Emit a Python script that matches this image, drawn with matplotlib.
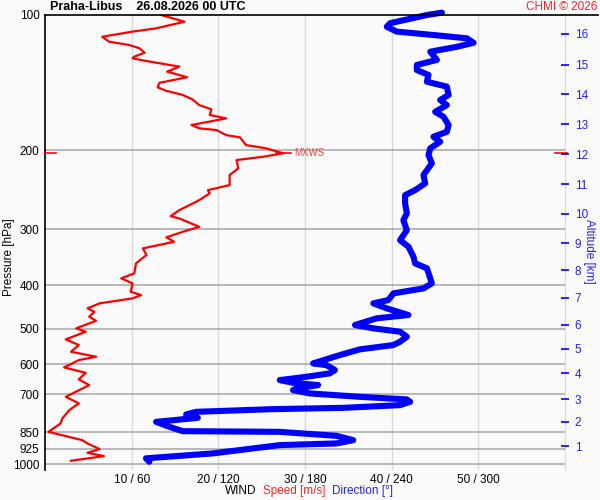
import matplotlib
matplotlib.use("Agg")
import matplotlib.pyplot as plt
from matplotlib.ticker import NullLocator

TITULO = "Praha-Libus    26.08.2026 00 UTC"

# rychlost vetru [m/s] podle tlaku [hPa]
PRES_RYCHLOST = [100, 103.5, 107.1, 108.9, 111.8, 114.7, 116.6, 118.6, 121.3, 123.8,
                 124.9, 126.6, 130.3, 133.7, 137.6, 141.6, 144.9, 147.5, 150.7, 154.1,
                 158.7, 162.2, 167.0, 169.9, 175.8, 178.8, 180.4, 185.1, 187.3, 194.8,
                 198.1, 203.2, 206.8, 210.4, 219.5, 227.2, 239.2, 245.5, 249.6, 258.4,
                 263.7, 272.0, 280.5, 283.8, 296.3, 303.9, 312.7, 319.9, 330.9, 342.4,
                 357.3, 376.1, 385.9, 396.0, 413.4, 420.4, 427.6, 438.7, 450.1, 457.9,
                 469.8, 479.6, 498.6, 507.4, 527.6, 543.2, 562.2, 576.8, 586.8, 609.2,
                 626.3, 647.8, 667.1, 708.4, 732.8, 758.4, 791.4, 812.0, 847.8, 884.6,
                 899.6, 926.3, 944.0, 960.1, 983.2]
RYCHLOST = [13.4, 16.1, 12.8, 10.1, 6.6, 7.4, 9.7, 10.9, 11.5, 10.3,
            10.1, 11.7, 15.5, 14.1, 16.4, 13.2, 13.0, 14.0, 15.9, 17.0,
            17.8, 19.2, 19.0, 20.9, 16.9, 17.8, 19.8, 20.9, 22.5, 23.2,
            25.5, 27.5, 25.2, 22.1, 22.3, 21.3, 21.3, 18.8, 19.0, 17.8,
            16.9, 15.5, 14.5, 15.5, 17.8, 15.9, 14.0, 14.9, 11.3, 11.7,
            10.5, 10.3, 8.8, 10.1, 9.9, 11.1, 10.1, 6.3, 4.9, 5.7,
            5.1, 5.9, 3.6, 4.7, 2.4, 3.9, 3.0, 5.9, 3.9, 2.2,
            4.7, 3.9, 5.1, 2.4, 3.9, 2.8, 2.0, 1.8, 0.4, 4.3,
            4.9, 6.3, 4.9, 6.8, 3.0]

# smer vetru [deg] podle tlaku [hPa]
PRES_SMER = [98.8, 100, 104.3, 106.2, 108.9, 110.8, 112.7, 115.3, 117.7, 120.7,
             125.9, 129.2, 132.6, 136.0, 140.8, 144.4, 150.7, 154.6, 158.7, 164.3,
             168.5, 175.8, 182.0, 186.7, 191.5, 198.1, 205.0, 214.0, 227.2, 237.1,
             245.5, 251.8, 262.8, 276.6, 286.3, 301.4, 317.3, 328.1, 345.4, 357.3,
             366.5, 385.9, 396.0, 406.3, 416.8, 431.3, 438.7, 450.1, 465.7, 473.7,
             490.2, 498.6, 507.4, 520.6, 534.1, 543.2, 555.4, 571.8, 596.9, 602.2,
             617.5, 628.1, 639.2, 650.2, 659.3, 667.1, 678.5, 684.5, 696.2, 708.4,
             717.9, 726.8, 739.3, 749.6, 754.6, 765.1, 775.4, 789.0, 805.4, 826.2,
             844.8, 847.8, 865.4, 884.6, 899.6, 907.5, 946.9, 971.1, 988.3]
SMER = [274.8, 264.4, 238.9, 236.6, 243.5, 268.9, 292.1, 296.7, 285.2, 266.7,
        271.3, 257.4, 257.4, 265.5, 264.4, 278.2, 279.4, 273.6, 278.2, 270.1,
        275.9, 279.4, 278.2, 268.9, 273.6, 266.7, 265.5, 267.8, 262.0, 263.2,
        256.2, 249.3, 249.3, 250.5, 248.1, 250.5, 245.8, 251.6, 255.1, 256.2,
        264.4, 266.7, 267.8, 262.0, 241.2, 237.7, 227.3, 236.6, 251.6, 229.6,
        214.6, 227.3, 245.8, 250.5, 245.8, 241.2, 218.0, 204.2, 185.6, 194.9,
        200.7, 197.2, 181.0, 162.5, 171.7, 189.1, 174.1, 171.7, 183.3, 218.0,
        250.5, 252.8, 245.8, 206.4, 157.8, 104.6, 97.7, 105.8, 76.9, 86.1,
        95.3, 162.5, 201.9, 213.4, 201.9, 162.5, 116.2, 69.9, 72.2]

TLAK_HLADINY = [100, 200, 300, 400, 500, 600, 700, 850, 925, 1000]
MRIZKA_TLAK = [200, 300, 400, 500, 600, 700, 850, 925, 1000]
X_HODNOTY = [10, 20, 30, 40, 50]
X_POPISKY = ["10 / 60", "20 / 120", "30 / 180", "40 / 240", "50 / 300"]
VYSKA_KM = list(range(1, 17))
VYSKA_TLAK = [912, 805, 718, 628, 553, 490, 426, 370, 322, 277, 238, 204, 175, 150, 129, 110]
MXWS_TLAK = 203.2
MXWS_RYCHLOST = 27.5

plt.rcParams['font.family'] = ['Liberation Sans', 'DejaVu Sans']
POZADI = '#fafafa'

fig = plt.figure(figsize=(6, 5), dpi=100, facecolor=POZADI)
ax = fig.add_axes([0.075, 0.06, 0.8667, 0.91])
ax.set_facecolor(POZADI)
ax.set_yscale('log')
ax.set_ylim(1031, 100)
ax.set_xlim(0, 60)

for p in MRIZKA_TLAK:
    ax.axhline(p, color='#a6a6a6', lw=1.1, zorder=1)
for x in X_HODNOTY:
    ax.axvline(x, color='#d9d9d9', lw=1.0, zorder=0.5)

ax.plot(RYCHLOST, PRES_RYCHLOST, color='#ff0000', lw=1.6,
        solid_joinstyle='round', zorder=3)
ax.plot([s / 6 for s in SMER], PRES_SMER, color='#0000ff', lw=4.4,
        solid_capstyle='round', solid_joinstyle='round', zorder=2, clip_on=False)

# MXWS
ax.plot([MXWS_RYCHLOST - 0.8, MXWS_RYCHLOST + 0.9], [MXWS_TLAK, MXWS_TLAK], color='#ff0000', lw=1.2, zorder=3)
ax.text(MXWS_RYCHLOST + 1.3, MXWS_TLAK, "MXWS", color='#ff4040', fontsize=7, va='center', ha='left')
tr = ax.get_yaxis_transform()
ax.plot([0, 0.021], [MXWS_TLAK, MXWS_TLAK], color='#ff0000', lw=1.2, transform=tr, clip_on=False, zorder=4)
ax.plot([0.98, 1.003], [MXWS_TLAK, MXWS_TLAK], color='#ff0000', lw=1.2, transform=tr, clip_on=False, zorder=4)

ax.yaxis.set_minor_locator(NullLocator())
ax.set_yticks(TLAK_HLADINY)
ax.set_yticklabels([str(p) for p in TLAK_HLADINY])
ax.set_xticks(X_HODNOTY)
ax.set_xticklabels(X_POPISKY)
ax.tick_params(axis='both', length=0, labelsize=8.5, colors='#000000')
ax.tick_params(axis='y', pad=4)
ax.tick_params(axis='x', pad=3)

ax.spines['left'].set_color('#000000')
ax.spines['left'].set_linewidth(1.2)
ax.spines['bottom'].set_visible(False)
ax.spines['top'].set_visible(False)
ax.spines['right'].set_color('#d9d9d9')
ax.plot([0, 1.063], [1, 1], color='#000000', lw=1.2, transform=ax.transAxes, clip_on=False, zorder=5)

ax2 = ax.twinx()
ax2.set_yscale('log')
ax2.set_ylim(1031, 100)
ax2.yaxis.set_minor_locator(NullLocator())
ax2.set_yticks(VYSKA_TLAK)
ax2.set_yticklabels([str(k) for k in VYSKA_KM])
ax2.tick_params(axis='y', direction='inout', length=6, width=1.2, color='#0000ff',
                labelcolor='#2020ff', labelsize=8.5, pad=4)
for s in ax2.spines.values():
    s.set_visible(False)

fig.text(0.083, 0.986, TITULO, fontsize=9, fontweight='bold', ha='left', va='center')
fig.text(0.995, 0.986, "CHMI © 2026", fontsize=8.5, color='#ff2020', ha='right', va='center')
fig.text(0.015, 0.485, "Pressure [hPa]", fontsize=8.5, rotation=90, ha='center', va='center')
fig.text(0.982, 0.497, "Altitude [km]", fontsize=8.5, rotation=270, color='#2020ff', ha='center', va='center')
fig.text(0.375, 0.018, "WIND", fontsize=8.5, ha='left', va='center')
fig.text(0.438, 0.018, "Speed [m/s]", fontsize=8.5, color='#ff2020', ha='left', va='center')
fig.text(0.553, 0.018, "Direction [°]", fontsize=8.5, color='#2020ff', ha='left', va='center')

fig.savefig("out.png", dpi=100, facecolor=POZADI)
